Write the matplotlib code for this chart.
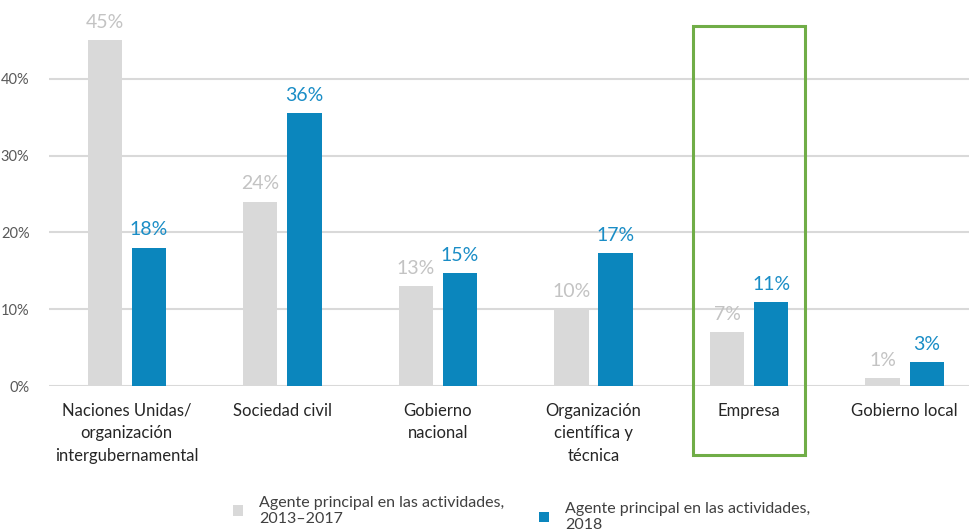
import matplotlib.pyplot as plt
import numpy as np
from matplotlib.patches import Rectangle
from matplotlib.ticker import PercentFormatter

plt.rcParams['font.family'] = ['Lato', 'DejaVu Sans']

categories = ["Naciones Unidas/\norganización\nintergubernamental", "Sociedad civil",
              "Gobierno\nnacional", "Organización\ncientífica y\ntécnica",
              "Empresa", "Gobierno local"]
share_2013_2017 = [0.45, 0.24, 0.13, 0.10, 0.07, 0.01]
share_2018 = [0.18, 0.355, 0.147, 0.173, 0.109, 0.031]
series_names = ["Agente principal en las actividades,\n2013\u20132017",
                "Agente principal en las actividades,\n2018"]
highlight = "Empresa"

gray = "#D9D9D9"
blue = "#0B86BD"

fig = plt.figure(figsize=(9.7, 5.29), dpi=100)
ax = fig.add_axes([0.0505, 0.2703, 0.9495, 0.7259])

x = np.arange(len(categories))
w = 0.22
off = 0.142
b1 = ax.bar(x - off, share_2013_2017, w, color=gray, zorder=2)
b2 = ax.bar(x + off, share_2018, w, color=blue, zorder=2)

for rect, v in zip(b1, share_2013_2017):
    ax.annotate(f"{v*100:.0f}%", (rect.get_x() + rect.get_width() / 2, v),
                xytext=(0, 9), textcoords="offset points", ha="center",
                va="baseline", fontsize=14, color="#C3C3C3")
for rect, v in zip(b2, share_2018):
    ax.annotate(f"{v*100:.0f}%", (rect.get_x() + rect.get_width() / 2, v),
                xytext=(0, 9), textcoords="offset points", ha="center",
                va="baseline", fontsize=14, color="#1A8DC6")

ax.set_xlim(-0.5, 5.42)
ax.set_ylim(0, 0.5)
ax.set_yticks([0, 0.1, 0.2, 0.3, 0.4])
ax.yaxis.set_major_formatter(PercentFormatter(1.0, decimals=0))
ax.yaxis.grid(True, color="#D9D9D9", linewidth=1.5, zorder=0)
ax.set_axisbelow(True)
ax.tick_params(axis="y", length=0, pad=14, labelsize=10.5, labelcolor="#595959")
ax.set_xticks(x)
ax.set_xticklabels(categories, fontsize=12, color="#262626", linespacing=1.5)
ax.tick_params(axis="x", length=0, pad=12)
for s in ax.spines.values():
    s.set_visible(False)

# green box round the highlighted category
i = categories.index(highlight)
box = Rectangle((i - 0.36, -0.09), 0.72, 0.559, fill=False, edgecolor="#70AD47",
                linewidth=2.2, clip_on=False, zorder=3)
ax.add_patch(box)

fig.legend([b1], [series_names[0]], loc="upper left", bbox_to_anchor=(0.232, 0.078),
           frameon=False, borderpad=0, handlelength=0.65, handleheight=0.65,
           handletextpad=1.0, fontsize=11.5, labelcolor="#404040")
fig.legend([b2], [series_names[1]], loc="upper left", bbox_to_anchor=(0.547, 0.066),
           frameon=False, borderpad=0, handlelength=0.65, handleheight=0.65,
           handletextpad=1.0, fontsize=11.5, labelcolor="#404040")

fig.savefig("out.png", dpi=100)
